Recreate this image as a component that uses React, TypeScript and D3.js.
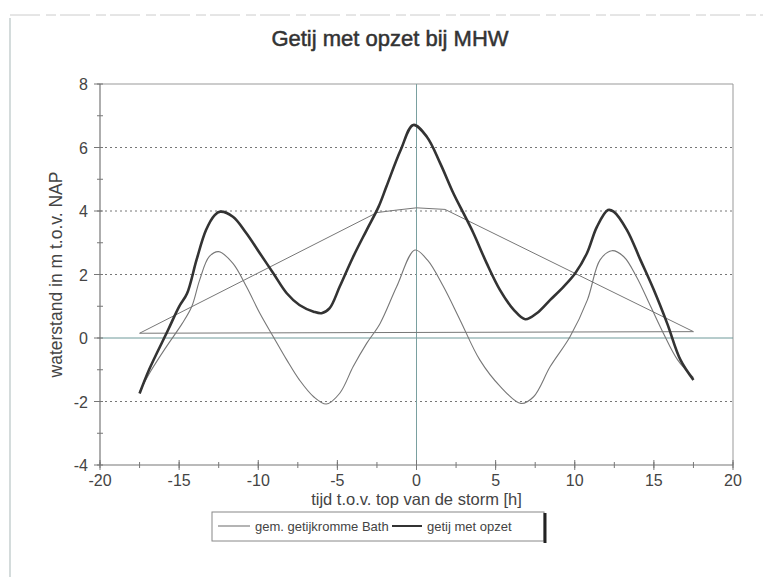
import React from "react";
import * as d3 from "d3";

const title = "Getij met opzet bij MHW";
const xLabel = "tijd t.o.v. top van de storm [h]";
const yLabel = "waterstand in m t.o.v. NAP";
const xTicks = [-20, -15, -10, -5, 0, 5, 10, 15, 20];
const yTicks = [-4, -2, 0, 2, 4, 6, 8];
const seriesNames = ["gem. getijkromme Bath", "getij met opzet"];

// gem. getijkromme Bath (thin)
const tideX = [-17.5, -16.8, -15.8, -14.8, -14.2, -13.7, -13.1, -12.5, -11.6, -10.75, -9.9, -9.05, -8.2, -7.4, -6.5, -5.7, -4.85, -4.0, -3.15, -2.3, -1.25, -0.1, 0.7, 1.7, 2.75, 4.0, 5.3, 6.6, 7.4, 8.45, 9.7, 10.8, 11.6, 12.35, 13.1, 13.9, 14.8, 15.6, 16.5, 17.5];
const tideY = [-1.7, -1.05, -0.27, 0.46, 0.99, 1.83, 2.56, 2.72, 2.35, 1.62, 0.78, 0.04, -0.69, -1.32, -1.85, -2.08, -1.74, -0.9, -0.17, 0.46, 1.62, 2.77, 2.45, 1.62, 0.57, -0.69, -1.53, -2.06, -1.85, -0.9, 0.04, 1.2, 2.46, 2.75, 2.56, 1.93, 0.99, 0.15, -0.69, -1.25];

// getij met opzet (thick)
const surgeTideX = [-17.5, -16.9, -15.7, -15.0, -14.5, -13.9, -13.3, -12.75, -12.4, -11.6, -10.75, -9.9, -9.05, -8.2, -7.4, -6.5, -6.0, -5.5, -4.85, -4.0, -3.15, -2.4, -1.9, -1.0, -0.2, 0.65, 1.5, 2.33, 3.0, 3.6, 4.44, 5.28, 6.16, 6.87, 7.6, 8.45, 9.3, 10.03, 10.77, 11.4, 12.1, 12.46, 13.3, 14.15, 15.0, 15.84, 16.68, 17.5];
const surgeTideY = [-1.75, -1.0, 0.25, 0.99, 1.4, 2.46, 3.4, 3.87, 3.98, 3.82, 3.3, 2.67, 2.04, 1.41, 1.04, 0.83, 0.78, 0.93, 1.62, 2.56, 3.4, 4.13, 4.77, 5.92, 6.71, 6.34, 5.5, 4.56, 3.9, 3.3, 2.35, 1.51, 0.88, 0.59, 0.78, 1.2, 1.62, 2.04, 2.67, 3.5, 4.03, 3.98, 3.4, 2.46, 1.51, 0.46, -0.69, -1.32];

// opzet (surge) outline
const surgeX = [-17.5, -2.5, -1.25, 0, 1.8, 17.5, -17.5];
const surgeY = [0.15, 3.95, 4.03, 4.1, 4.05, 0.2, 0.15];

const W = 763;
const H = 577;
const M = { left: 100, right: 733, top: 84, bottom: 465 };
const FONT = "'Liberation Sans', Arial, sans-serif";

export default function App() {
  const x = d3.scaleLinear().domain([-20, 20]).range([M.left, M.right]);
  const y = d3.scaleLinear().domain([-4, 8]).range([M.bottom, M.top]);

  const smooth = d3
    .line<[number, number]>()
    .x((d) => x(d[0]))
    .y((d) => y(d[1]))
    .curve(d3.curveCatmullRom.alpha(0.5));
  const straight = d3
    .line<[number, number]>()
    .x((d) => x(d[0]))
    .y((d) => y(d[1]));

  const tide = tideX.map((v, i) => [v, tideY[i]] as [number, number]);
  const surgeTide = surgeTideX.map((v, i) => [v, surgeTideY[i]] as [number, number]);
  const surge = surgeX.map((v, i) => [v, surgeY[i]] as [number, number]);

  const xMinor = d3.range(-20, 20.01, 2.5);
  const yMinor = d3.range(-4, 8.01, 1);
  const gridY = yTicks.filter((t) => t !== 0 && t !== 8 && t !== -4);

  return (
    <svg
      width={W}
      height={H}
      style={{ position: "absolute", left: 0, top: 0, background: "#fff" }}
      fontFamily={FONT}
    >
      <rect x={0} y={0} width={W} height={H} fill="#fff" />
      {/* outer chart border */}
      <line x1={10} x2={10} y1={18} y2={H} stroke="#b8c4c4" strokeWidth={1.2} />
      <line x1={10} x2={W} y1={15} y2={15} stroke="#ccc" strokeWidth={1} strokeDasharray="30,6,10,4" />

      <text x={390} y={46} textAnchor="middle" fontSize={22} fill="#333" stroke="#333" strokeWidth={0.5}>
        {title}
      </text>

      {/* plot frame */}
      <line x1={M.left} x2={M.right} y1={M.top} y2={M.top} stroke="#999" strokeWidth={1} />
      <line x1={M.right} x2={M.right} y1={M.top} y2={M.bottom} stroke="#999" strokeWidth={1} />

      {/* dotted gridlines */}
      {gridY.map((t) => (
        <line key={"g" + t} x1={M.left} x2={M.right} y1={y(t)} y2={y(t)} stroke="#777" strokeWidth={1} strokeDasharray="2,3" />
      ))}

      {/* zero lines */}
      <line x1={M.left} x2={M.right} y1={y(0)} y2={y(0)} stroke="#6f9a9a" strokeWidth={1} />
      <line x1={x(0)} x2={x(0)} y1={M.top} y2={M.bottom} stroke="#7aa0a0" strokeWidth={1} />

      {/* y axis */}
      <line x1={M.left} x2={M.left} y1={M.top} y2={M.bottom} stroke="#777" strokeWidth={1.2} />
      {yMinor.map((t) => (
        <line key={"ym" + t} x1={M.left - 3} x2={M.left + 3} y1={y(t)} y2={y(t)} stroke="#777" />
      ))}
      {yTicks.map((t) => (
        <g key={"yt" + t}>
          <line x1={M.left - 6} x2={M.left} y1={y(t)} y2={y(t)} stroke="#777" />
          <text x={M.left - 12} y={y(t) + 6} textAnchor="end" fontSize={16} fill="#444">
            {t}
          </text>
        </g>
      ))}

      {/* x axis */}
      <line x1={M.left} x2={M.right} y1={M.bottom} y2={M.bottom} stroke="#777" strokeWidth={1.2} />
      {xMinor.map((t) => (
        <line key={"xm" + t} x1={x(t)} x2={x(t)} y1={M.bottom - 3} y2={M.bottom + 3} stroke="#777" />
      ))}
      {xTicks.map((t) => (
        <g key={"xt" + t}>
          <line x1={x(t)} x2={x(t)} y1={M.bottom - 5} y2={M.bottom + 5} stroke="#777" />
          <text x={x(t)} y={M.bottom + 21} textAnchor="middle" fontSize={16} fill="#444">
            {t}
          </text>
        </g>
      ))}

      <text x={x(0)} y={M.bottom + 40} textAnchor="middle" fontSize={16.5} fill="#444">
        {xLabel}
      </text>
      <text
        transform={`translate(62, ${(M.top + M.bottom) / 2}) rotate(-90)`}
        textAnchor="middle"
        fontSize={17.5}
        fill="#444"
      >
        {yLabel}
      </text>

      {/* series */}
      <path d={straight(surge) || ""} fill="none" stroke="#777" strokeWidth={1} />
      <path d={smooth(tide) || ""} fill="none" stroke="#777" strokeWidth={1.1} />
      <path d={smooth(surgeTide) || ""} fill="none" stroke="#333" strokeWidth={2.6} />

      {/* legend */}
      <rect x={212} y={512} width={332} height={29} fill="#fff" stroke="#888" strokeWidth={1} />
      <line x1={545} x2={545} y1={513} y2={543} stroke="#222" strokeWidth={3} />
      <line x1={218} x2={250} y1={526} y2={526} stroke="#777" strokeWidth={1.1} />
      <text x={255} y={531} fontSize={13} fill="#444">
        {seriesNames[0]}
      </text>
      <line x1={392} x2={422} y1={526} y2={526} stroke="#333" strokeWidth={2} />
      <text x={427} y={531} fontSize={13} fill="#444">
        {seriesNames[1]}
      </text>
    </svg>
  );
}
